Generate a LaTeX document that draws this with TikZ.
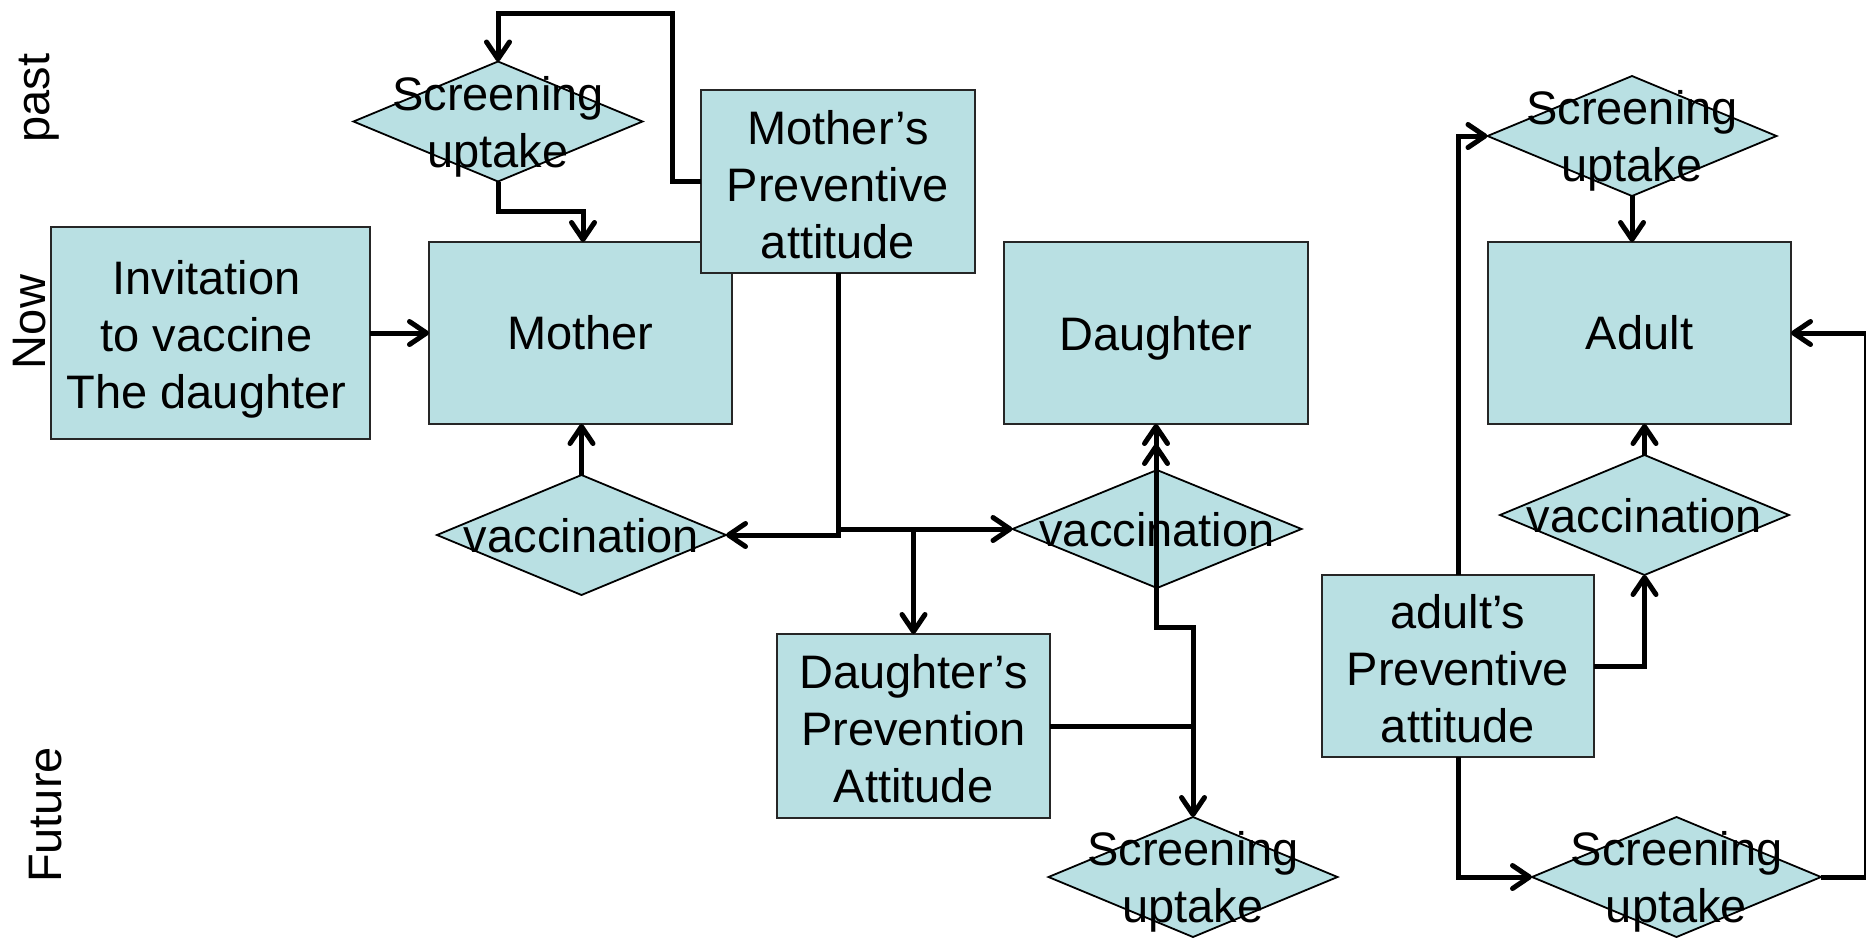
\documentclass[tikz,border=0pt]{standalone}
\usepackage{fontspec}
\setmainfont{Liberation Sans}
\usetikzlibrary{shapes.geometric,arrows.meta,calc}
\definecolor{boxfill}{HTML}{B9E0E3}
\begin{document}
\begin{tikzpicture}[x=1pt,y=-1pt,
  txt/.style={font=\fontsize{47}{57}\selectfont},
  boxnode/.style={txt, draw=black!85, line width=2pt, fill=boxfill, rectangle,
    inner sep=0pt, outer sep=0pt, align=center},
  dianode/.style={draw=black, line width=1.8pt, fill=boxfill, diamond,
    inner sep=0pt, outer sep=0pt, minimum width=289pt, minimum height=120pt},
  diatext/.style={txt, align=center, inner sep=0pt, yshift=-5pt},
  diatextone/.style={txt, align=center, inner sep=0pt, yshift=-1pt},
  conn/.style={line width=5pt},
  arr/.style={conn, -{Straight Barb[length=17pt,width=23pt,round]}},
]
\useasboundingbox (0,0) rectangle (1866,938);
\fill[white] (0,0) rectangle (1866,938);

% time labels
\node[txt, rotate=90, inner sep=0pt] (past) at (39,98) {past};
\node[txt, rotate=90, inner sep=0pt] (now) at (30,322) {Now};
\node[txt, rotate=90, inner sep=0pt] (future) at (46,815) {Future};

% boxes
\node[boxnode, minimum width=319pt, minimum height=212pt] (inv) at (210.5,333) {};
\node[txt, align=center, inner sep=0pt, yshift=-6pt, xshift=-4pt] (invt) at (inv) {Invitation\\to vaccine\\The daughter};
\node[boxnode, minimum width=303pt, minimum height=182pt] (mother) at (580.5,333) {Mother};
\node[boxnode, minimum width=274pt, minimum height=183pt] (mpa) at (838,181.5) {};
\node[txt, align=center, inner sep=0pt, yshift=-3pt] (mpat) at (mpa) {Mother’s\\Preventive\\attitude};
\node[boxnode, minimum width=304pt, minimum height=182pt] (daughter) at (1156,333) {};
\node[txt, inner sep=0pt, yshift=-5pt] (daughtert) at (daughter) {Daughter};
\node[boxnode, minimum width=303pt, minimum height=182pt] (adult) at (1639.5,333) {Adult};
\node[boxnode, minimum width=273pt, minimum height=184pt] (dpa) at (913.5,726) {};
\node[txt, align=center, inner sep=0pt, yshift=-3pt] (dpat) at (dpa) {Daughter’s\\Prevention\\Attitude};
\node[boxnode, minimum width=272pt, minimum height=182pt] (apa) at (1458,666) {};
\node[txt, align=center, inner sep=0pt, yshift=-3pt] (apat) at (apa) {adult’s\\Preventive\\attitude};

% diamonds
\node[dianode] (sd1) at (498,121.5) {};
\node[dianode] (vac1) at (581.5,535) {};
\node[dianode, minimum height=118pt] (vac2) at (1157,529) {};
\node[dianode] (sd3) at (1193,877) {};
\node[dianode] (sd2) at (1632,136) {};
\node[dianode] (vac3) at (1644.5,515) {};
\node[dianode] (sd4) at (1676.5,877) {};

\node[diatext] (sd1t) at (sd1) {Screening\\uptake};
\node[diatextone] (vac1t) at (vac1) {vaccination};
\node[diatextone] (vac2t) at (vac2) {vaccination};
\node[diatext] (sd3t) at (sd3) {Screening\\uptake};
\node[diatext] (sd2t) at (sd2) {Screening\\uptake};
\node[diatextone] (vac3t) at (vac3) {vaccination};
\node[diatext] (sd4t) at (sd4) {Screening\\uptake};

% helper coordinates
\coordinate (loop) at (672,13);
\coordinate (j1) at (583,211);
\coordinate (jm) at (1156,627);
\coordinate (rc) at (1866.5,877);

% connectors
\draw[arr] (mpa.west) -| (loop) -| (sd1.north);
\draw[arr] (sd1.south) |- (j1) -- (j1 |- mother.north);
\draw[arr] (inv.east) -- (mother.west);
\draw[arr] (vac1.north) -- (vac1.north |- mother.south);
\draw[arr] (mpa.south) |- (vac1.east);
\draw[arr] (mpa.south |- vac2.west) -- (vac2.west);
\draw[arr] (dpa.north |- vac2.west) -- (dpa.north);
\draw[arr] (dpa.east) -| (sd3.north);
\draw[arr] (sd3.north |- dpa.east) |- (jm) -- (jm |- daughter.south);
\draw[arr, shorten >=20pt] (jm |- vac2.north) -- (jm |- daughter.south);
\draw[arr] (apa.north) |- (sd2.west);
\draw[arr] (apa.south) |- (sd4.west);
\draw[arr] (apa.east) -| (vac3.south);
\draw[arr] (vac3.north) -- (vac3.north |- adult.south);
\draw[arr] (sd2.south) -- (sd2.south |- adult.north);
\draw[arr] (sd4.east) -- (rc) |- (adult.east);
\end{tikzpicture}
\end{document}
